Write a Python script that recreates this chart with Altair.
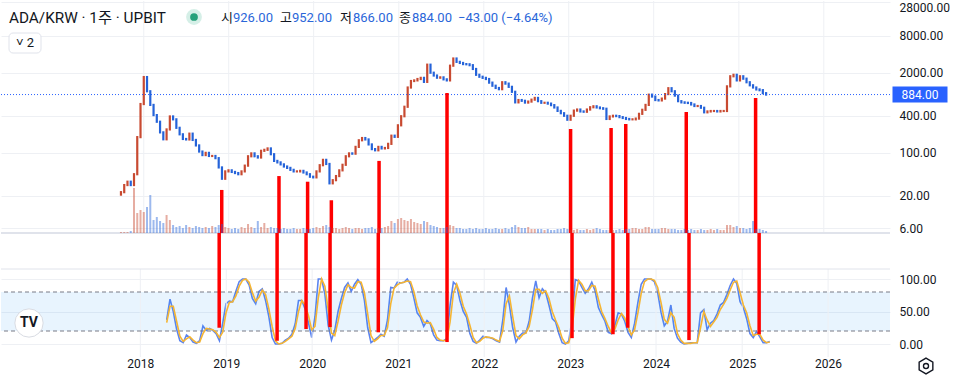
import altair as alt
import pandas as pd

# ---------------- data ----------------
first_open = 21
close = [
    23, 30, 34, 30, 45, 180, 620, 1700, 1000, 600,
    410, 320, 215, 166, 240, 390, 350, 255, 200, 168,
    165, 205, 162, 132, 105, 92, 100, 89, 89, 82,
    58, 38, 50, 52, 49, 47, 45, 50, 62, 88,
    98, 88, 84, 108, 112, 118, 95, 74, 70, 65,
    60, 57, 53, 50, 50, 51, 48, 45, 41, 40,
    50, 63, 77, 66, 32, 36, 42, 52, 64, 88,
    98, 97, 125, 160, 174, 165, 137, 115, 110, 125,
    118, 120, 140, 190, 182, 280, 393, 560, 1150, 1466,
    1500, 1580, 1650, 1420, 2700, 2000, 1800, 1660, 1680, 1560,
    1500, 2600, 3400, 3000, 2880, 2760, 2740, 2650, 2300, 1850,
    1720, 1650, 1580, 1380, 1230, 1130, 1080, 1400, 1330, 1180,
    980, 660, 720, 700, 655, 680, 730, 780, 690, 650,
    650, 630, 595, 545, 480, 440, 400, 345, 400, 485,
    505, 470, 465, 505, 550, 570, 545, 530, 520, 355,
    390, 400, 395, 380, 368, 355, 350, 350, 360, 430,
    500, 600, 880, 820, 720, 710, 760, 900, 1120, 1000,
    850, 690, 660, 650, 645, 610, 576, 576, 540, 455,
    470, 478, 478, 470, 478, 478, 1200, 1750, 1850, 1500,
    1750, 1600, 1400, 1250, 1150, 1070, 1040, 930, 884,
]
volume = [
    1, 1, 1, 2,
    45, 20, 23, 21, 26, 38, 13, 16, 12, 10, 18, 13, 8,
    6, 7, 5, 8, 6, 5, 7, 6, 5, 6, 5, 7, 6,
    8, 9, 6, 5, 4, 5, 4, 6, 5, 9, 6, 5,
    12,
    6, 10, 5,
    6, 5, 5, 4, 5, 4, 4, 5, 4, 4, 5, 4, 4, 5, 6, 5, 7, 8, 6, 5,
    5, 4, 5, 6, 5, 4, 5, 5, 4, 5, 5, 6, 4, 5, 5, 6, 7,
    12, 10, 14, 15, 13, 12, 14, 11, 10, 9, 12, 11, 8, 7,
    6, 5, 5, 6, 8, 7, 5, 5, 4, 4, 5, 4, 5, 4, 4, 5, 4, 4, 5, 4, 4, 5, 4, 6,
    8, 6, 5, 5, 6, 4, 4, 4,
    4, 3, 4, 3, 3, 4, 4, 5, 4, 3, 3, 4, 3, 3, 4, 3, 4, 5, 4, 3, 3, 3, 3, 3, 4, 3, 4, 4, 5, 5, 4, 4,
    6, 6, 4, 4, 4, 5, 5, 4, 4, 4, 3, 3, 4, 3, 4, 3, 3, 4, 3, 3, 4, 3, 4, 3, 3,
    8, 8, 6, 7, 5, 5, 4, 5, 12, 4, 4, 3, 2,
]
stoch_start = 15
stoch_k = [
    37, 69, 50, 23, 5, 2, 14, 10, 3, 1,
    5, 28, 21, 24, 21, 16, 5, 32, 62, 66,
    65, 81, 96, 100, 100, 91, 70, 62, 81, 85,
    67, 42, 10, 0, 0, 1, 6, 9, 15, 31,
    67, 67, 54, 33, 10, 42, 100, 100, 77, 29,
    6, 21, 50, 70, 87, 94, 81, 92, 99, 92,
    67, 25, 2, 6, 10, 15, 12, 37, 87, 86,
    95, 94, 95, 100, 92, 71, 48, 41, 27, 36,
    31, 14, 6, 5, 5, 8, 60, 95, 90, 67,
    50, 41, 16, 4, 1, 6, 12, 10, 10, 8,
    5, 3, 37, 87, 60, 25, 3, 12, 17, 17,
    35, 71, 97, 71, 85, 79, 60, 39, 34, 16,
    2, 0, 5, 37, 99, 97, 87, 78, 85, 95,
    82, 56, 45, 35, 18, 16, 28, 48, 46, 35,
    18, 10, 32, 64, 92, 100, 100, 100, 96, 79,
    49, 28, 35, 60, 24, 9, 3, 0, 1, 2,
    2, 2, 48, 53, 22, 32, 36, 46, 60, 64,
    76, 90, 100, 93, 65, 56, 39, 16, 10, 19,
    11, 2, 2, 4,
]
stoch_d = [
    33, 58, 58, 35, 12, 4, 8, 11, 6, 2,
    3, 16, 24, 23, 22, 18, 10, 18, 48, 64,
    65, 74, 89, 98, 100, 95, 79, 66, 72, 83,
    76, 54, 27, 5, 0, 1, 4, 8, 12, 24,
    50, 67, 60, 44, 22, 27, 71, 100, 89, 53,
    17, 13, 35, 60, 79, 91, 87, 86, 96, 95,
    79, 46, 13, 4, 8, 13, 13, 25, 62, 86,
    91, 94, 95, 97, 96, 81, 59, 45, 34, 32,
    33, 23, 10, 6, 5, 6, 34, 78, 92, 78,
    58, 46, 29, 10, 2, 4, 9, 11, 10, 9,
    6, 4, 21, 62, 74, 42, 13, 8, 14, 17,
    27, 53, 84, 84, 78, 82, 70, 50, 37, 25,
    9, 1, 2, 22, 69, 98, 92, 82, 82, 90,
    89, 69, 50, 39, 27, 17, 23, 37, 47, 40,
    27, 14, 22, 48, 78, 96, 100, 100, 98, 87,
    64, 38, 32, 48, 41, 16, 6, 1, 1, 1,
    2, 2, 25, 50, 37, 27, 34, 41, 53, 61,
    70, 83, 95, 97, 79, 60, 48, 28, 13, 15,
    15, 6, 2, 3,
]
signal_dates = ["2018-12-02", "2019-08-05", "2019-12-06", "2020-03-17", "2020-10-08",
                "2021-07-27", "2023-01-09", "2023-07-02", "2023-09-03", "2024-05-20",
                "2025-03-14"]
signal_price_top = [25, 42, 34, 17, 74, 936, 244, 253, 294, 460, 776]
signal_osc_bottom = [25, 5, 23, 26, 18, 3, 9, 15, 25, 6, 15]

years = list(range(2018, 2027))
price_ticks = [6, 20, 100, 400, 2000, 8000, 28000]
osc_ticks = [0, 50, 100]
band_levels = [20, 80]
last_price = 884
title_text = "ADA/KRW · 1주 · UPBIT"
ohlc_labels = ["시", "고", "저", "종"]
ohlc_values = ["926.00", "952.00", "866.00", "884.00"]
change_text = "−43.00 (−4.64%)"

# ---------------- layout / style constants ----------------
W, H_TOP, H_BOT = 889, 232, 124
PRICE_MIN, PRICE_MAX = 5.0, 29180
OSC_MIN, OSC_MAX = -20.0, 170.8
PANE_TOP = 115.4
UP, DOWN = "#c84a31", "#2563d9"
TXT = "#131722"
GRID = "#eef0f4"
SEP = "#e0e3eb"
FONT = "Roboto, Noto Sans CJK KR, sans-serif"

x_min = pd.Timestamp("2016-05-19")
x_max = pd.Timestamp("2026-09-21")

# ---------------- tables ----------------
dates = pd.date_range("2017-09-25", periods=len(close), freq="14D")
opens = [first_open] + close[:-1]
df = pd.DataFrame({"date": dates, "open": opens, "close": close, "volume": volume})
df["dir"] = ["up" if c >= o else "down" for o, c in zip(opens, close)]

osc = pd.DataFrame({"date": dates[stoch_start:], "k": stoch_k, "d": stoch_d})

sig = pd.DataFrame({"date": pd.to_datetime(signal_dates), "top": signal_price_top,
                    "bottom": signal_osc_bottom})
sig["price_base"] = PRICE_MIN
sig["osc_top"] = OSC_MAX

last_df = pd.DataFrame({"price": [last_price]})
one = pd.DataFrame({"v": [0]})
levels_df = pd.DataFrame({"level": band_levels})
band_df = pd.DataFrame({"start": [x_min], "end": [x_max], "lo": [min(band_levels)],
                        "hi": [max(band_levels)]})
year_dates = [pd.Timestamp(f"{y}-01-01") for y in years]
years_bot = pd.DataFrame({"date": year_dates, "lo": OSC_MIN, "hi": PANE_TOP})
years_top = pd.DataFrame({"date": year_dates, "lo": PRICE_MIN, "hi": PRICE_MAX})
pane_df = pd.DataFrame({"level": [PANE_TOP]})
sep_df = pd.DataFrame({"level": [PRICE_MIN]})

x_scale = alt.Scale(domain=[alt.DateTime(year=2016, month=5, date=19),
                            alt.DateTime(year=2026, month=9, date=21)])
year_vals = [alt.DateTime(year=y, month=1, date=1) for y in years]
price_scale = alt.Scale(type="log", domain=[PRICE_MIN, PRICE_MAX], nice=False)
osc_scale = alt.Scale(domain=[OSC_MIN, OSC_MAX], nice=False, zero=False)
dir_scale = alt.Scale(domain=["up", "down"], range=[UP, DOWN])


def xs(field="date:T"):
    return alt.X(field, scale=x_scale)


def py(field):
    return alt.Y(field, scale=price_scale)


def oy(field):
    return alt.Y(field, scale=osc_scale)


# ---------------- top pane ----------------
price_axis = alt.Axis(orient="right", values=price_ticks, format=".2f", title=None,
                      grid=True, gridColor=GRID, domain=False, ticks=False, tickSize=0,
                      labelPadding=9, labelFlush=3, labelColor=TXT, labelFontSize=12,
                      labelFont=FONT)

year_grid_top = alt.Chart(years_top).mark_rule(color=GRID, strokeWidth=1).encode(
    x=alt.X("date:T", scale=x_scale, axis=None),
    y=alt.Y("lo:Q", scale=price_scale, axis=price_axis), y2="hi:Q")

candles = alt.Chart(df).mark_rule(strokeWidth=2.2, strokeCap="square").encode(
    x=xs(), y=py("open:Q"), y2="close:Q",
    color=alt.Color("dir:N", scale=dir_scale, legend=None),
)

sep_line = alt.Chart(sep_df).mark_rule(color=SEP, strokeWidth=2).encode(y=py("level:Q"))

dotted = alt.Chart(last_df).mark_rule(color="#2962ff", strokeDash=[1, 2], strokeWidth=1).encode(
    y=py("price:Q"))

red_top = alt.Chart(sig).mark_rule(color="#ff0000", strokeWidth=3.5).encode(
    x=xs(), y=py("top:Q"), y2="price_base:Q")

BOX = "M-1,-0.29H1V0.29H-1Z"
tag = alt.Chart(last_df).mark_point(shape=BOX, size=3025, filled=True, fill="#2962ff",
                                    opacity=1, strokeWidth=0).encode(
    x=alt.value(919), y=py("price:Q"))
tag_text = alt.Chart(last_df).mark_text(color="white", fontSize=12, align="center",
                                        baseline="middle", font=FONT).encode(
    x=alt.value(919), y=py("price:Q"),
    text=alt.Text("price:Q", format=".2f"))

price_group = alt.layer(year_grid_top, sep_line, candles, dotted, red_top, tag, tag_text)

vol = alt.Chart(df).mark_bar(size=2, opacity=0.45).encode(
    x=xs(),
    y=alt.Y("volume:Q", scale=alt.Scale(domain=[0, 232], nice=False), axis=None),
    color=alt.Color("dir:N", scale=dir_scale, legend=None),
)


def txt(text, x, y, color=TXT, size=13, weight="normal", align="left"):
    return alt.Chart(one).mark_text(text=text, color=color, fontSize=size, fontWeight=weight,
                                    align=align, baseline="middle", font=FONT).encode(
        x=alt.value(x), y=alt.value(y))


header = [txt(title_text, 8, 17, size=15.3)]
halo = alt.Chart(one).mark_point(filled=True, color="#d5efe7", size=250, opacity=1).encode(
    x=alt.value(193), y=alt.value(16))
dot = alt.Chart(one).mark_point(filled=True, color="#26a17b", size=60, opacity=1).encode(
    x=alt.value(193), y=alt.value(16))
header += [halo, dot]
label_x = [220, 279, 339, 398]
value_x = [232, 291, 352, 411]
for lab, val, lx, vx in zip(ohlc_labels, ohlc_values, label_x, value_x):
    header.append(txt(lab, lx, 17))
    header.append(txt(val, vx, 17, color="#2a66d9"))
header.append(txt(change_text, 457, 17, color="#2a66d9"))

btn = alt.Chart(one).mark_rect(fill="white", stroke=SEP, strokeWidth=1, cornerRadius=4).encode(
    x=alt.value(8), x2=alt.value(40), y=alt.value(32), y2=alt.value(52))
header += [btn, txt("˅ 2", 24, 42, size=13, align="center")]

top = alt.layer(price_group, vol, *header).resolve_scale(y="independent").properties(
    width=W, height=H_TOP)

# ---------------- lower pane (Stoch RSI) ----------------
osc_axis = alt.Axis(orient="right", values=osc_ticks, format=".2f", title=None, grid=True,
                    gridColor=GRID, domain=False, ticks=False, tickSize=0, labelPadding=9,
                    labelColor=TXT, labelFontSize=12, labelFont=FONT)
x_bot_axis = alt.Axis(values=year_vals, format="%Y", title=None, grid=False, domain=False,
                      ticks=False, tickSize=0, labelPadding=1, labelColor=TXT,
                      labelFontSize=12, labelFont=FONT)

k_line = alt.Chart(osc).mark_line(color="#5b84f0", strokeWidth=1.6).encode(
    x=alt.X("date:T", scale=x_scale, axis=x_bot_axis),
    y=alt.Y("k:Q", scale=osc_scale, axis=osc_axis),
)
band = alt.Chart(band_df).mark_rect(color="#2196f3", opacity=0.1).encode(
    x=xs("start:T"), x2="end:T", y=oy("lo:Q"), y2="hi:Q")
year_lines = alt.Chart(years_bot).mark_rule(color=GRID, strokeWidth=1).encode(
    x=xs(), y=oy("lo:Q"), y2="hi:Q")
pane_line = alt.Chart(pane_df).mark_rule(color=SEP, strokeWidth=1).encode(y=oy("level:Q"))
dashes = alt.Chart(levels_df).mark_rule(color="#787b86", strokeDash=[4, 3], strokeWidth=1).encode(
    y=oy("level:Q"))
d_line = alt.Chart(osc).mark_line(color="#f5b533", strokeWidth=1.6).encode(x=xs(), y=oy("d:Q"))
red_bot = alt.Chart(sig).mark_rule(color="#ff0000", strokeWidth=3.5).encode(
    x=xs(), y=oy("bottom:Q"), y2="osc_top:Q")

logo_bg = alt.Chart(one).mark_point(filled=True, fill="white", stroke="#d9dce3", strokeWidth=1,
                                    size=800, opacity=1).encode(x=alt.value(28), y=alt.value(90))
logo = txt("TV", 28, 90, size=14, weight="bold", align="center")
HEX = "M0,-1L0.866,-0.5L0.866,0.5L0,1L-0.866,0.5L-0.866,-0.5Z"
gear = alt.Chart(one).mark_point(shape=HEX, size=250, filled=False, stroke=TXT, strokeWidth=1.4,
                                 opacity=1).encode(x=alt.value(925), y=alt.value(133))
gear_in = alt.Chart(one).mark_point(shape="circle", size=25, filled=False, stroke=TXT,
                                    strokeWidth=1.4, opacity=1).encode(x=alt.value(925), y=alt.value(133))

bottom = alt.layer(k_line, band, year_lines, pane_line, dashes, d_line, red_bot,
                   logo_bg, logo, gear, gear_in).properties(width=W, height=H_BOT)

chart = alt.vconcat(top, bottom, spacing=0, bounds="flush").properties(
    padding={"left": 0, "right": 0, "top": 0, "bottom": 0}
).configure(font=FONT).configure_view(stroke=None)

chart.save("out.html", embed_options={"renderer": "svg", "actions": False})
